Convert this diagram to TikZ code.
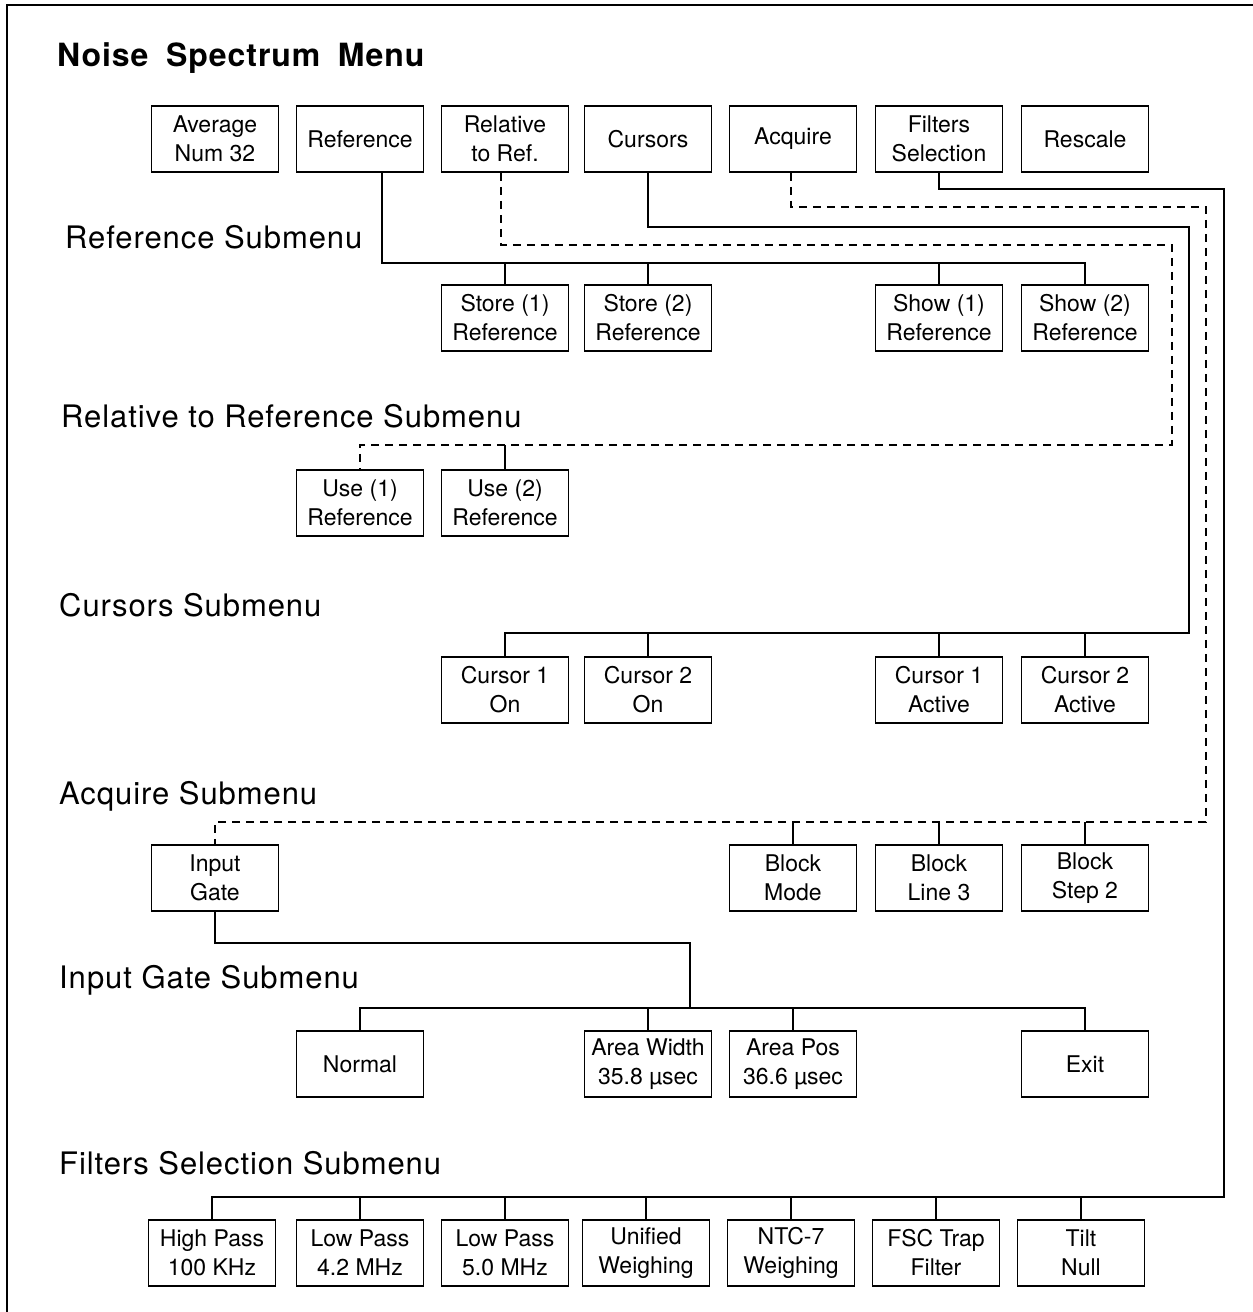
\documentclass[tikz,border=0pt]{standalone}
\usepackage{fontspec}
\setmainfont{TeX Gyre Heros}
\newfontfamily\headfont[LetterSpace=3]{TeX Gyre Heros}
\tikzset{
  menubox/.style={draw, line width=1.8pt, minimum width=127pt, minimum height=66pt,
    inner sep=0pt, align=center, font=\fontsize{23}{29}\selectfont},
  wire/.style={line width=1.8pt},
  dashwire/.style={line width=1.8pt, dash pattern=on 8pt off 6pt},
  heading/.style={anchor=base west, inner sep=0pt, font=\headfont\fontsize{31}{36}\selectfont}
}
\begin{document}
\begin{tikzpicture}[x=1pt,y=-1pt]
\useasboundingbox (0,0) rectangle (1253,1312);
\draw[line width=1.8pt] (7,1312) -- (7,5) -- (1253,5);

% headings
\node[heading, font=\headfont\fontsize{32}{36}\selectfont\bfseries] (title) at (57,66) {Noise\hspace{.55em}Spectrum\hspace{.55em}Menu};
\node[heading] (hdref) at (65,248) {Reference Submenu};
\node[heading] (hdrel) at (61,427) {Relative to Reference Submenu};
\node[heading] (hdcur) at (59,616) {Cursors Submenu};
\node[heading] (hdacq) at (59,804) {Acquire Submenu};
\node[heading] (hdgate) at (59,988) {Input Gate Submenu};
\node[heading] (hdfilt) at (59,1174) {Filters Selection Submenu};

% main menu
\foreach \n/\x/\t in {avg/215/{Average\\Num 32}, ref/360/{Reference}, rel/505/{Relative\\to Ref.},
    cur/648/{Cursors}, acq/793/{Acquire}, filt/939/{Filters\\Selection}, rescale/1085/{Rescale}}
  \node[menubox] (\n) at (\x,139) {\t};

% submenus
\foreach \n/\x/\t in {store1/505/{Store (1)\\Reference}, store2/648/{Store (2)\\Reference},
    show1/939/{Show (1)\\Reference}, show2/1085/{Show (2)\\Reference}}
  \node[menubox] (\n) at (\x,318) {\t};
\foreach \n/\x/\t in {use1/360/{Use (1)\\Reference}, use2/505/{Use (2)\\Reference}}
  \node[menubox] (\n) at (\x,503) {\t};
\foreach \n/\x/\t in {curon1/505/{Cursor 1\\On}, curon2/648/{Cursor 2\\On},
    curact1/939/{Cursor 1\\Active}, curact2/1085/{Cursor 2\\Active}}
  \node[menubox] (\n) at (\x,690) {\t};
\foreach \n/\x/\t in {gate/215/{Input\\Gate}, blkmode/793/{Block\\Mode},
    blkline/939/{Block\\Line 3}, blkstep/1085/{Block\\Step 2}}
  \node[menubox] (\n) at (\x,878) {\t};
\foreach \n/\x/\t in {normal/360/{Normal}, areawidth/648/{Area Width\\35.8 µsec},
    areapos/793/{Area Pos\\36.6 µsec}, exit/1085/{Exit}}
  \node[menubox] (\n) at (\x,1064) {\t};
\foreach \n/\x/\t in {hipass/212/{High Pass\\100 KHz}, lopass1/360/{Low Pass\\4.2 MHz},
    lopass2/505/{Low Pass\\5.0 MHz}, unified/646/{Unified\\Weighing}, ntc/791/{NTC-7\\Weighing},
    fsc/936/{FSC Trap\\Filter}, tilt/1081/{Tilt\\Null}}
  \node[menubox] (\n) at (\x,1253) {\t};

% bus lines
\coordinate (refbus) at (0,263);
\coordinate (relup) at (1172,245);
\coordinate (relbus) at (0,445);
\coordinate (curup) at (1189,227);
\coordinate (curbus) at (0,633);
\coordinate (acqup) at (1206,207);
\coordinate (acqbus) at (0,822);
\coordinate (gatejoin) at (690,943);
\coordinate (gatebus) at (0,1008);
\coordinate (filtup) at (1224,189);
\coordinate (filtbus) at (0,1197);

% Reference
\draw[wire] ([xshift=22pt]ref.south) |- (show2.north |- refbus) -- (show2.north);
\foreach \n in {store1,store2,show1} \draw[wire] (\n.north) -- (\n.north |- refbus);
% Relative to Ref.
\draw[dashwire] ([xshift=-4pt]rel.south) |- (relup) |- (use1.north |- relbus) -- (use1.north);
\draw[wire] (use2.north) -- (use2.north |- relbus);
% Cursors
\draw[wire] (cur.south) |- (curup) |- (curon1.north |- curbus) -- (curon1.north);
\foreach \n in {curon2,curact1,curact2} \draw[wire] (\n.north) -- (\n.north |- curbus);
% Acquire
\draw[dashwire] ([xshift=-2pt]acq.south) |- (acqup) |- (gate.north |- acqbus) -- (gate.north);
\foreach \n in {blkmode,blkline,blkstep} \draw[wire] (\n.north) -- (\n.north |- acqbus);
% Input Gate
\draw[wire] (gate.south) |- (gatejoin) -- (gatejoin |- gatebus);
\draw[wire] (normal.north) |- (exit.north |- gatebus) -- (exit.north);
\foreach \n in {areawidth,areapos} \draw[wire] (\n.north) -- (\n.north |- gatebus);
% Filters Selection
\draw[wire] (filt.south) |- (filtup) |- (hipass.north |- filtbus) -- (hipass.north);
\foreach \n in {lopass1,lopass2,unified,ntc,fsc,tilt} \draw[wire] (\n.north) -- (\n.north |- filtbus);
\end{tikzpicture}
\end{document}
